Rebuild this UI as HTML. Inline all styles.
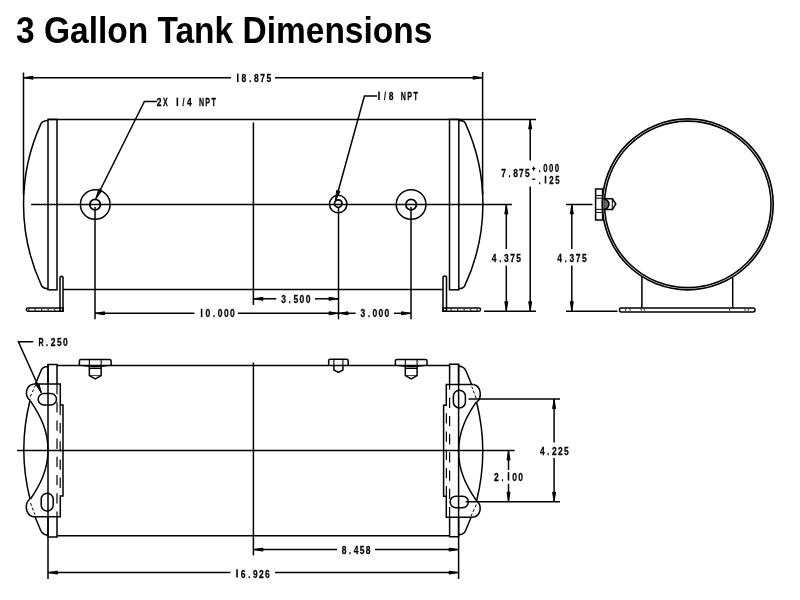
<!DOCTYPE html>
<html><head><meta charset="utf-8"><style>
html,body{margin:0;padding:0;background:#fff;width:800px;height:600px;overflow:hidden}
.t{position:absolute;left:16px;top:0;font:bold 33.5px "Liberation Sans",sans-serif;color:#000;white-space:nowrap;transform:scaleY(1.106);transform-origin:0 0;will-change:transform}
svg{position:absolute;left:0;top:0;will-change:transform}
svg text{font-family:"Liberation Sans",sans-serif;fill:#000}
</style></head><body>
<div class="t" style="top:9.6px">3 Gallon Tank Dimensions</div>
<svg width="800" height="600" viewBox="0 0 800 600" stroke="#000" stroke-linecap="butt">
<line x1="23.5" y1="72.5" x2="23.5" y2="195" stroke-width="1.5" />
<line x1="482.6" y1="72" x2="482.6" y2="195" stroke-width="1.5" />
<line x1="23.5" y1="77.7" x2="231" y2="77.7" stroke-width="1.5" />
<line x1="275" y1="77.7" x2="482.6" y2="77.7" stroke-width="1.5" />
<polygon points="24.0,77.7 33.0,76.2 33.0,79.2" fill="#000" stroke="#000" stroke-width="1" stroke-linejoin="round"/>
<polygon points="482.1,77.7 473.1,76.2 473.1,79.2" fill="#000" stroke="#000" stroke-width="1" stroke-linejoin="round"/>
<line x1="237.75" y1="73.65" x2="237.75" y2="82.1" stroke-width="1.55"/>
<text transform="translate(237.75,82.1) scale(0.6,1)" text-anchor="middle" font-size="11.8" font-weight="bold" style="fill:none;stroke:none">1</text>
<text transform="translate(243.98,82.1) scale(0.72,1)" text-anchor="middle" font-size="11.8" font-weight="bold" stroke="#000" stroke-width="0.3">8</text>
<text transform="translate(250.21,82.1) scale(0.6,1)" text-anchor="middle" font-size="11.8" font-weight="bold" stroke="#000" stroke-width="0.3">.</text>
<text transform="translate(256.44,82.1) scale(0.72,1)" text-anchor="middle" font-size="11.8" font-weight="bold" stroke="#000" stroke-width="0.3">8</text>
<text transform="translate(262.67,82.1) scale(0.72,1)" text-anchor="middle" font-size="11.8" font-weight="bold" stroke="#000" stroke-width="0.3">7</text>
<text transform="translate(268.90,82.1) scale(0.72,1)" text-anchor="middle" font-size="11.8" font-weight="bold" stroke="#000" stroke-width="0.3">5</text>
<line x1="48" y1="119.4" x2="536" y2="119.4" stroke-width="1.5" />
<line x1="63" y1="289.6" x2="443" y2="289.6" stroke-width="1.5" />
<rect x="48" y="119.4" width="9" height="170.4" rx="0" stroke-width="1.5" fill="none"/>
<rect x="449.5" y="119.4" width="9.3" height="170.4" rx="0" stroke-width="1.5" fill="none"/>
<path d="M48,120.6 L45.5,120.7 Q42.5,121 41,123.6 A194,194 0 0 0 41.7,286 Q43.5,288.6 48,288.8" stroke-width="1.5" fill="none" />
<path d="M458.5,120.6 L461.5,120.7 Q464.5,121 465.5,123.6 A194,194 0 0 1 464.5,286.4 Q462.5,288.6 458.5,288.8" stroke-width="1.5" fill="none" />
<line x1="31" y1="204.5" x2="512" y2="204.5" stroke-width="1.5" />
<line x1="253.4" y1="122.5" x2="253.4" y2="305" stroke-width="1.5" />
<circle cx="95.25" cy="204.5" r="14.85" stroke-width="1.5" fill="none"/>
<circle cx="95.1" cy="204.6" r="5.3" stroke-width="1.75" fill="none"/>
<circle cx="338.2" cy="204.1" r="8.75" stroke-width="1.5" fill="none"/>
<circle cx="338.25" cy="203.6" r="3.75" stroke-width="1.75" fill="none"/>
<circle cx="411.1" cy="204.5" r="14.85" stroke-width="1.5" fill="none"/>
<circle cx="411.1" cy="204.6" r="5.3" stroke-width="1.75" fill="none"/>
<line x1="95" y1="207" x2="95" y2="319.3" stroke-width="1.5" />
<line x1="338.5" y1="207.5" x2="338.5" y2="319.3" stroke-width="1.5" />
<line x1="411" y1="207" x2="411" y2="319.3" stroke-width="1.5" />
<path d="M96,198.5 L144.4,101.5 L157,101.5" stroke-width="1.5" fill="none" />
<polygon points="95.90,198.60 98.85,188.89 101.89,190.41" fill="#000" stroke="#000" stroke-width="1" stroke-linejoin="round"/>
<text transform="translate(159.20,106) scale(0.72,1)" text-anchor="middle" font-size="11.8" font-weight="bold" stroke="#000" stroke-width="0.3">2</text>
<text transform="translate(165.25,106) scale(0.6,1)" text-anchor="middle" font-size="11.8" font-weight="bold" stroke="#000" stroke-width="0.3">X</text>
<line x1="177.35" y1="97.55" x2="177.35" y2="106" stroke-width="1.55"/>
<text transform="translate(177.35,106) scale(0.6,1)" text-anchor="middle" font-size="11.8" font-weight="bold" style="fill:none;stroke:none">1</text>
<text transform="translate(183.40,106) scale(0.6,1)" text-anchor="middle" font-size="11.8" font-weight="bold" stroke="#000" stroke-width="0.3">/</text>
<text transform="translate(189.45,106) scale(0.72,1)" text-anchor="middle" font-size="11.8" font-weight="bold" stroke="#000" stroke-width="0.3">4</text>
<text transform="translate(201.55,106) scale(0.6,1)" text-anchor="middle" font-size="11.8" font-weight="bold" stroke="#000" stroke-width="0.3">N</text>
<text transform="translate(207.60,106) scale(0.6,1)" text-anchor="middle" font-size="11.8" font-weight="bold" stroke="#000" stroke-width="0.3">P</text>
<text transform="translate(213.65,106) scale(0.6,1)" text-anchor="middle" font-size="11.8" font-weight="bold" stroke="#000" stroke-width="0.3">T</text>
<path d="M335.6,200.5 L364.4,96 L377,96" stroke-width="1.5" fill="none" />
<polygon points="335.60,200.60 336.62,190.51 339.89,191.41" fill="#000" stroke="#000" stroke-width="1" stroke-linejoin="round"/>
<line x1="379.00" y1="91.55" x2="379.00" y2="100" stroke-width="1.55"/>
<text transform="translate(379.00,100) scale(0.6,1)" text-anchor="middle" font-size="11.8" font-weight="bold" style="fill:none;stroke:none">1</text>
<text transform="translate(385.10,100) scale(0.6,1)" text-anchor="middle" font-size="11.8" font-weight="bold" stroke="#000" stroke-width="0.3">/</text>
<text transform="translate(391.20,100) scale(0.72,1)" text-anchor="middle" font-size="11.8" font-weight="bold" stroke="#000" stroke-width="0.3">8</text>
<text transform="translate(403.40,100) scale(0.6,1)" text-anchor="middle" font-size="11.8" font-weight="bold" stroke="#000" stroke-width="0.3">N</text>
<text transform="translate(409.50,100) scale(0.6,1)" text-anchor="middle" font-size="11.8" font-weight="bold" stroke="#000" stroke-width="0.3">P</text>
<text transform="translate(415.60,100) scale(0.6,1)" text-anchor="middle" font-size="11.8" font-weight="bold" stroke="#000" stroke-width="0.3">T</text>
<path d="M60,311.3 L60,277.5 Q60,276.3 61.5,276.3 Q63,276.3 63,277.5 L63,311.3 Z" stroke-width="1.5" fill="none" />
<path d="M28,308 L63,308 L63,311.3 L28,311.3 Q26.3,311.3 26.3,309.6 Q26.3,308 28,308 Z" stroke-width="1.5" fill="none" />
<line x1="28" y1="309.8" x2="60" y2="309.8" stroke-width="1.2" stroke-dasharray="1.3,5.2"/>
<path d="M443,311.3 L443,277.3 Q443,276 444.5,276 Q446.5,276 446.5,277.3 L446.5,311.3 Z" stroke-width="1.5" fill="none" />
<path d="M443,308 L479,308 Q480.6,308 480.6,309.6 Q480.6,311.3 479,311.3 L443,311.3 Z" stroke-width="1.5" fill="none" />
<line x1="447" y1="309.8" x2="479" y2="309.8" stroke-width="1.2" stroke-dasharray="1.3,5.2" stroke-dashoffset="3"/>
<line x1="253.4" y1="298.8" x2="276.3" y2="298.8" stroke-width="1.5" />
<line x1="315" y1="298.8" x2="338.5" y2="298.8" stroke-width="1.5" />
<polygon points="253.9,298.8 262.9,297.3 262.9,300.3" fill="#000" stroke="#000" stroke-width="1" stroke-linejoin="round"/>
<polygon points="338.0,298.8 329.0,297.3 329.0,300.3" fill="#000" stroke="#000" stroke-width="1" stroke-linejoin="round"/>
<text transform="translate(283.60,303.1) scale(0.72,1)" text-anchor="middle" font-size="11.8" font-weight="bold" stroke="#000" stroke-width="0.3">3</text>
<text transform="translate(289.70,303.1) scale(0.6,1)" text-anchor="middle" font-size="11.8" font-weight="bold" stroke="#000" stroke-width="0.3">.</text>
<text transform="translate(295.80,303.1) scale(0.72,1)" text-anchor="middle" font-size="11.8" font-weight="bold" stroke="#000" stroke-width="0.3">5</text>
<text transform="translate(301.90,303.1) scale(0.72,1)" text-anchor="middle" font-size="11.8" font-weight="bold" stroke="#000" stroke-width="0.3">0</text>
<text transform="translate(308.00,303.1) scale(0.72,1)" text-anchor="middle" font-size="11.8" font-weight="bold" stroke="#000" stroke-width="0.3">0</text>
<line x1="95" y1="313.3" x2="194.4" y2="313.3" stroke-width="1.5" />
<line x1="238" y1="313.3" x2="338.5" y2="313.3" stroke-width="1.5" />
<polygon points="95.5,313.3 104.5,311.8 104.5,314.8" fill="#000" stroke="#000" stroke-width="1" stroke-linejoin="round"/>
<polygon points="338.0,313.3 329.0,311.8 329.0,314.8" fill="#000" stroke="#000" stroke-width="1" stroke-linejoin="round"/>
<line x1="201.60" y1="308.75" x2="201.60" y2="317.2" stroke-width="1.55"/>
<text transform="translate(201.60,317.2) scale(0.6,1)" text-anchor="middle" font-size="11.8" font-weight="bold" style="fill:none;stroke:none">1</text>
<text transform="translate(207.76,317.2) scale(0.72,1)" text-anchor="middle" font-size="11.8" font-weight="bold" stroke="#000" stroke-width="0.3">0</text>
<text transform="translate(213.92,317.2) scale(0.6,1)" text-anchor="middle" font-size="11.8" font-weight="bold" stroke="#000" stroke-width="0.3">.</text>
<text transform="translate(220.08,317.2) scale(0.72,1)" text-anchor="middle" font-size="11.8" font-weight="bold" stroke="#000" stroke-width="0.3">0</text>
<text transform="translate(226.24,317.2) scale(0.72,1)" text-anchor="middle" font-size="11.8" font-weight="bold" stroke="#000" stroke-width="0.3">0</text>
<text transform="translate(232.40,317.2) scale(0.72,1)" text-anchor="middle" font-size="11.8" font-weight="bold" stroke="#000" stroke-width="0.3">0</text>
<line x1="338.5" y1="313.3" x2="355.6" y2="313.3" stroke-width="1.5" />
<line x1="394" y1="313.3" x2="411" y2="313.3" stroke-width="1.5" />
<polygon points="339.0,313.3 348.0,311.8 348.0,314.8" fill="#000" stroke="#000" stroke-width="1" stroke-linejoin="round"/>
<polygon points="410.5,313.3 401.5,311.8 401.5,314.8" fill="#000" stroke="#000" stroke-width="1" stroke-linejoin="round"/>
<text transform="translate(362.90,316.9) scale(0.72,1)" text-anchor="middle" font-size="11.8" font-weight="bold" stroke="#000" stroke-width="0.3">3</text>
<text transform="translate(368.87,316.9) scale(0.6,1)" text-anchor="middle" font-size="11.8" font-weight="bold" stroke="#000" stroke-width="0.3">.</text>
<text transform="translate(374.84,316.9) scale(0.72,1)" text-anchor="middle" font-size="11.8" font-weight="bold" stroke="#000" stroke-width="0.3">0</text>
<text transform="translate(380.81,316.9) scale(0.72,1)" text-anchor="middle" font-size="11.8" font-weight="bold" stroke="#000" stroke-width="0.3">0</text>
<text transform="translate(386.78,316.9) scale(0.72,1)" text-anchor="middle" font-size="11.8" font-weight="bold" stroke="#000" stroke-width="0.3">0</text>
<line x1="484" y1="311.2" x2="536" y2="311.2" stroke-width="1.5" />
<line x1="506.3" y1="204.5" x2="506.3" y2="249" stroke-width="1.5" />
<line x1="506.3" y1="265.6" x2="506.3" y2="311.2" stroke-width="1.5" />
<polygon points="506.3,205.0 504.8,214.0 507.8,214.0" fill="#000" stroke="#000" stroke-width="1" stroke-linejoin="round"/>
<polygon points="506.3,310.7 504.8,301.7 507.8,301.7" fill="#000" stroke="#000" stroke-width="1" stroke-linejoin="round"/>
<text transform="translate(494.20,262.4) scale(0.72,1)" text-anchor="middle" font-size="11.8" font-weight="bold" stroke="#000" stroke-width="0.3">4</text>
<text transform="translate(500.30,262.4) scale(0.6,1)" text-anchor="middle" font-size="11.8" font-weight="bold" stroke="#000" stroke-width="0.3">.</text>
<text transform="translate(506.40,262.4) scale(0.72,1)" text-anchor="middle" font-size="11.8" font-weight="bold" stroke="#000" stroke-width="0.3">3</text>
<text transform="translate(512.50,262.4) scale(0.72,1)" text-anchor="middle" font-size="11.8" font-weight="bold" stroke="#000" stroke-width="0.3">7</text>
<text transform="translate(518.60,262.4) scale(0.72,1)" text-anchor="middle" font-size="11.8" font-weight="bold" stroke="#000" stroke-width="0.3">5</text>
<line x1="530.2" y1="119.4" x2="530.2" y2="160.5" stroke-width="1.5" />
<line x1="530.2" y1="186.5" x2="530.2" y2="311.2" stroke-width="1.5" />
<polygon points="530.2,119.9 528.7,128.9 531.7,128.9" fill="#000" stroke="#000" stroke-width="1" stroke-linejoin="round"/>
<polygon points="530.2,310.7 528.7,301.7 531.7,301.7" fill="#000" stroke="#000" stroke-width="1" stroke-linejoin="round"/>
<text transform="translate(503.70,177.4) scale(0.72,1)" text-anchor="middle" font-size="11.8" font-weight="bold" stroke="#000" stroke-width="0.3">7</text>
<text transform="translate(509.60,177.4) scale(0.6,1)" text-anchor="middle" font-size="11.8" font-weight="bold" stroke="#000" stroke-width="0.3">.</text>
<text transform="translate(515.50,177.4) scale(0.72,1)" text-anchor="middle" font-size="11.8" font-weight="bold" stroke="#000" stroke-width="0.3">8</text>
<text transform="translate(521.40,177.4) scale(0.72,1)" text-anchor="middle" font-size="11.8" font-weight="bold" stroke="#000" stroke-width="0.3">7</text>
<text transform="translate(527.30,177.4) scale(0.72,1)" text-anchor="middle" font-size="11.8" font-weight="bold" stroke="#000" stroke-width="0.3">5</text>
<text transform="translate(539.55,171.75) scale(0.6,1)" text-anchor="middle" font-size="10.8" font-weight="bold" stroke="#000" stroke-width="0.3">.</text>
<text transform="translate(545.35,171.75) scale(0.72,1)" text-anchor="middle" font-size="10.8" font-weight="bold" stroke="#000" stroke-width="0.3">0</text>
<text transform="translate(551.15,171.75) scale(0.72,1)" text-anchor="middle" font-size="10.8" font-weight="bold" stroke="#000" stroke-width="0.3">0</text>
<text transform="translate(556.95,171.75) scale(0.72,1)" text-anchor="middle" font-size="10.8" font-weight="bold" stroke="#000" stroke-width="0.3">0</text>
<line x1="532.1" y1="168.6" x2="535.3" y2="168.6" stroke-width="1.25" />
<line x1="533.7" y1="166.4" x2="533.7" y2="170.8" stroke-width="1.25" />
<text transform="translate(539.60,183.5) scale(0.6,1)" text-anchor="middle" font-size="10.8" font-weight="bold" stroke="#000" stroke-width="0.3">.</text>
<line x1="545.50" y1="175.77" x2="545.50" y2="183.5" stroke-width="1.55"/>
<text transform="translate(545.50,183.5) scale(0.6,1)" text-anchor="middle" font-size="10.8" font-weight="bold" style="fill:none;stroke:none">1</text>
<text transform="translate(551.40,183.5) scale(0.72,1)" text-anchor="middle" font-size="10.8" font-weight="bold" stroke="#000" stroke-width="0.3">2</text>
<text transform="translate(557.30,183.5) scale(0.72,1)" text-anchor="middle" font-size="10.8" font-weight="bold" stroke="#000" stroke-width="0.3">5</text>
<line x1="532.2" y1="179.2" x2="535.2" y2="179.2" stroke-width="1.3" />
<circle cx="687.75" cy="204.35" r="85.45" stroke-width="1.65" fill="none"/>
<circle cx="687.75" cy="204.35" r="83.25" stroke-width="1.6" fill="none"/>
<line x1="566" y1="204.5" x2="592.5" y2="204.5" stroke-width="1.5" />
<line x1="566" y1="311.2" x2="617.5" y2="311.2" stroke-width="1.5" />
<line x1="571.8" y1="204.5" x2="571.8" y2="249" stroke-width="1.5" />
<line x1="571.8" y1="265.6" x2="571.8" y2="311.2" stroke-width="1.5" />
<polygon points="571.8,205.0 570.3,214.0 573.3,214.0" fill="#000" stroke="#000" stroke-width="1" stroke-linejoin="round"/>
<polygon points="571.8,310.7 570.3,301.7 573.3,301.7" fill="#000" stroke="#000" stroke-width="1" stroke-linejoin="round"/>
<text transform="translate(559.60,262.4) scale(0.72,1)" text-anchor="middle" font-size="11.8" font-weight="bold" stroke="#000" stroke-width="0.3">4</text>
<text transform="translate(565.77,262.4) scale(0.6,1)" text-anchor="middle" font-size="11.8" font-weight="bold" stroke="#000" stroke-width="0.3">.</text>
<text transform="translate(571.94,262.4) scale(0.72,1)" text-anchor="middle" font-size="11.8" font-weight="bold" stroke="#000" stroke-width="0.3">3</text>
<text transform="translate(578.11,262.4) scale(0.72,1)" text-anchor="middle" font-size="11.8" font-weight="bold" stroke="#000" stroke-width="0.3">7</text>
<text transform="translate(584.28,262.4) scale(0.72,1)" text-anchor="middle" font-size="11.8" font-weight="bold" stroke="#000" stroke-width="0.3">5</text>
<rect x="595.6" y="189" width="7" height="31" rx="0" stroke-width="1.5" fill="none"/>
<line x1="595.6" y1="195.6" x2="602.6" y2="195.6" stroke-width="1" />
<line x1="595.6" y1="198.2" x2="602.6" y2="198.2" stroke-width="1" />
<line x1="595.6" y1="209.4" x2="602.6" y2="209.4" stroke-width="1" />
<line x1="595.6" y1="212.4" x2="602.6" y2="212.4" stroke-width="1" />
<path d="M602.6,198.8 L612.5,198.8 L615.8,204 L612.5,209.4 L602.6,209.4" stroke-width="1.5" fill="none" />
<path d="M604.2,199.4 A4.6,4.8 0 0 1 604.2,209.2" stroke-width="1.6" fill="#666" />
<line x1="612.3" y1="198.8" x2="612.3" y2="209.4" stroke-width="1.0" />
<path d="M621,308 L753,308 Q755,308 755,310 Q755,312 753,312 L621,312 Q619.5,312 619.5,310 Q619.5,308 621,308 Z" stroke-width="1.5" fill="none" />
<line x1="641.9" y1="277" x2="641.9" y2="308" stroke-width="1.5" />
<line x1="732.7" y1="277.5" x2="732.7" y2="308" stroke-width="1.5" />
<line x1="625.0" y1="309.8" x2="626.2" y2="309.8" stroke-width="1.2" />
<line x1="629.4" y1="309.8" x2="630.6" y2="309.8" stroke-width="1.2" />
<line x1="640.65" y1="309.8" x2="641.85" y2="309.8" stroke-width="1.2" />
<line x1="643.8" y1="309.8" x2="645.0" y2="309.8" stroke-width="1.2" />
<line x1="729.0" y1="309.8" x2="730.2" y2="309.8" stroke-width="1.2" />
<line x1="744.4" y1="309.8" x2="745.6" y2="309.8" stroke-width="1.2" />
<line x1="747.6999999999999" y1="309.8" x2="748.9" y2="309.8" stroke-width="1.2" />
<line x1="57" y1="365.45" x2="449.5" y2="365.45" stroke-width="1.5" />
<line x1="57" y1="535.8" x2="449.5" y2="535.8" stroke-width="1.5" />
<line x1="17" y1="450.5" x2="514.5" y2="450.5" stroke-width="1.5" />
<line x1="253.4" y1="362.5" x2="253.4" y2="555.4" stroke-width="1.5" />
<g><path d="M48,383.9 L48,364.5 L57,364.5 L57,383.9" stroke-width="1.5" fill="none" />
<path d="M48,516.7 L48,537 L57,537 L57,516.7" stroke-width="1.5" fill="none" />
<line x1="48" y1="364.5" x2="48" y2="537" stroke-width="1.5" />
<line x1="57" y1="384" x2="57" y2="516.7" stroke-width="1.2" stroke-dasharray="10.3,7.9"/>
<line x1="60.2" y1="404.8" x2="60.2" y2="496" stroke-width="1.2" stroke-dasharray="10.3,7.9"/>
<path d="M33.8,383.9 L60.3,383.9 L60.3,405 L63,405 L63,496 L60.3,496 L60.3,516.7 L33,516.7" stroke-width="1.5" fill="none" />
<path d="M33.8,383.9 C25,385.5 24.5,396 30.2,400.6" stroke-width="1.5" fill="none" />
<path d="M30,499 C24.5,503 25,515 33,516.7" stroke-width="1.5" fill="none" />
<path d="M30,400.5 Q17.6,450 30,499" stroke-width="1.5" fill="none" />
<path d="M30.4,400.8 C40,415 48,430 48,450 C48,470 40,485 30.5,499" stroke-width="1.5" fill="none" />
<path d="M48,366.8 L45.5,366.8 Q43,367 41.5,369.5 L35.5,383.9" stroke-width="1.5" fill="none" />
<path d="M35,516.7 L40.5,530 Q42.5,534.8 48,535.2" stroke-width="1.5" fill="none" />
<rect x="38.2" y="393.5" width="18.3" height="11.5" rx="5.75" fill="none" stroke-width="1.5"/>
<rect x="41.2" y="493.3" width="12" height="17.7" rx="6" fill="none" stroke-width="1.5"/>
<line x1="35.7" y1="384.8" x2="29.8" y2="397.7" stroke-width="1.0" stroke-dasharray="3,2"/>
<line x1="30.5" y1="503" x2="34.8" y2="514.5" stroke-width="1.0" stroke-dasharray="3,2"/></g>
<g transform="rotate(180 253.3 450.6)"><path d="M48,383.9 L48,364.5 L57,364.5 L57,383.9" stroke-width="1.5" fill="none" />
<path d="M48,516.7 L48,537 L57,537 L57,516.7" stroke-width="1.5" fill="none" />
<line x1="48" y1="364.5" x2="48" y2="537" stroke-width="1.5" />
<line x1="57" y1="384" x2="57" y2="516.7" stroke-width="1.2" stroke-dasharray="10.3,7.9"/>
<line x1="60.2" y1="404.8" x2="60.2" y2="496" stroke-width="1.2" stroke-dasharray="10.3,7.9"/>
<path d="M33.8,383.9 L60.3,383.9 L60.3,405 L63,405 L63,496 L60.3,496 L60.3,516.7 L33,516.7" stroke-width="1.5" fill="none" />
<path d="M33.8,383.9 C25,385.5 24.5,396 30.2,400.6" stroke-width="1.5" fill="none" />
<path d="M30,499 C24.5,503 25,515 33,516.7" stroke-width="1.5" fill="none" />
<path d="M30,400.5 Q17.6,450 30,499" stroke-width="1.5" fill="none" />
<path d="M30.4,400.8 C40,415 48,430 48,450 C48,470 40,485 30.5,499" stroke-width="1.5" fill="none" />
<path d="M48,366.8 L45.5,366.8 Q43,367 41.5,369.5 L35.5,383.9" stroke-width="1.5" fill="none" />
<path d="M35,516.7 L40.5,530 Q42.5,534.8 48,535.2" stroke-width="1.5" fill="none" />
<rect x="38.2" y="393.5" width="18.3" height="11.5" rx="5.75" fill="none" stroke-width="1.5"/>
<rect x="41.2" y="493.3" width="12" height="17.7" rx="6" fill="none" stroke-width="1.5"/>
<line x1="35.7" y1="384.8" x2="29.8" y2="397.7" stroke-width="1.0" stroke-dasharray="3,2"/>
<line x1="30.5" y1="503" x2="34.8" y2="514.5" stroke-width="1.0" stroke-dasharray="3,2"/></g>
<path d="M79.4,365.5 L79.4,360.9 Q79.4,359.4 80.9,359.4 L109.6,359.4 Q111.1,359.4 111.1,360.9 L111.1,365.5" stroke-width="1.5" fill="none" />
<path d="M79.4,365.3 Q95.25,368 111.1,365.3" stroke-width="1.1" fill="none" />
<line x1="89.35" y1="359.4" x2="89.35" y2="367" stroke-width="1.1" />
<line x1="101.15" y1="359.4" x2="101.15" y2="367" stroke-width="1.1" />
<path d="M89.35,367 L89.35,375.6 L95.25,378.9 L101.15,375.6 L101.15,367" stroke-width="1.5" fill="none" />
<line x1="89.35" y1="368.3" x2="101.15" y2="368.3" stroke-width="1.4" />
<line x1="89.35" y1="375.6" x2="101.15" y2="375.6" stroke-width="0.8" />
<path d="M328.65,365.5 L328.65,360.7 Q328.65,359.25 330.15,359.25 L346.65,359.25 Q348.15,359.25 348.15,360.7 L348.15,365.5" stroke-width="1.5" fill="none" />
<line x1="333.9" y1="359.25" x2="333.9" y2="365.5" stroke-width="1.1" />
<line x1="342.9" y1="359.25" x2="342.9" y2="365.5" stroke-width="1.1" />
<path d="M333.9,365.5 L333.9,370 L338.4,372.5 L342.9,370 L342.9,365.5" stroke-width="1.5" fill="none" />
<path d="M395.34999999999997,365.5 L395.34999999999997,360.9 Q395.34999999999997,359.4 396.84999999999997,359.4 L425.55,359.4 Q427.05,359.4 427.05,360.9 L427.05,365.5" stroke-width="1.5" fill="none" />
<path d="M395.34999999999997,365.3 Q411.2,368 427.05,365.3" stroke-width="1.1" fill="none" />
<line x1="405.3" y1="359.4" x2="405.3" y2="367" stroke-width="1.1" />
<line x1="417.09999999999997" y1="359.4" x2="417.09999999999997" y2="367" stroke-width="1.1" />
<path d="M405.3,367 L405.3,375.6 L411.2,378.9 L417.09999999999997,375.6 L417.09999999999997,367" stroke-width="1.5" fill="none" />
<line x1="405.3" y1="368.3" x2="417.09999999999997" y2="368.3" stroke-width="1.4" />
<line x1="405.3" y1="375.6" x2="417.09999999999997" y2="375.6" stroke-width="0.8" />
<line x1="48" y1="537" x2="48" y2="579" stroke-width="1.5" />
<line x1="458.6" y1="537" x2="458.6" y2="579" stroke-width="1.5" />
<line x1="48" y1="572.6" x2="230.5" y2="572.6" stroke-width="1.5" />
<line x1="275" y1="572.6" x2="458.6" y2="572.6" stroke-width="1.5" />
<polygon points="48.5,572.6 57.5,571.1 57.5,574.1" fill="#000" stroke="#000" stroke-width="1" stroke-linejoin="round"/>
<polygon points="458.1,572.6 449.1,571.1 449.1,574.1" fill="#000" stroke="#000" stroke-width="1" stroke-linejoin="round"/>
<line x1="237.00" y1="569.15" x2="237.00" y2="577.6" stroke-width="1.55"/>
<text transform="translate(237.00,577.6) scale(0.6,1)" text-anchor="middle" font-size="11.8" font-weight="bold" style="fill:none;stroke:none">1</text>
<text transform="translate(243.08,577.6) scale(0.72,1)" text-anchor="middle" font-size="11.8" font-weight="bold" stroke="#000" stroke-width="0.3">6</text>
<text transform="translate(249.16,577.6) scale(0.6,1)" text-anchor="middle" font-size="11.8" font-weight="bold" stroke="#000" stroke-width="0.3">.</text>
<text transform="translate(255.24,577.6) scale(0.72,1)" text-anchor="middle" font-size="11.8" font-weight="bold" stroke="#000" stroke-width="0.3">9</text>
<text transform="translate(261.32,577.6) scale(0.72,1)" text-anchor="middle" font-size="11.8" font-weight="bold" stroke="#000" stroke-width="0.3">2</text>
<text transform="translate(267.40,577.6) scale(0.72,1)" text-anchor="middle" font-size="11.8" font-weight="bold" stroke="#000" stroke-width="0.3">6</text>
<line x1="253.4" y1="549.6" x2="337" y2="549.6" stroke-width="1.5" />
<line x1="375" y1="549.6" x2="458.6" y2="549.6" stroke-width="1.5" />
<polygon points="253.9,549.6 262.9,548.1 262.9,551.1" fill="#000" stroke="#000" stroke-width="1" stroke-linejoin="round"/>
<polygon points="458.1,549.6 449.1,548.1 449.1,551.1" fill="#000" stroke="#000" stroke-width="1" stroke-linejoin="round"/>
<text transform="translate(344.00,554) scale(0.72,1)" text-anchor="middle" font-size="11.8" font-weight="bold" stroke="#000" stroke-width="0.3">8</text>
<text transform="translate(350.00,554) scale(0.6,1)" text-anchor="middle" font-size="11.8" font-weight="bold" stroke="#000" stroke-width="0.3">.</text>
<text transform="translate(356.00,554) scale(0.72,1)" text-anchor="middle" font-size="11.8" font-weight="bold" stroke="#000" stroke-width="0.3">4</text>
<text transform="translate(362.00,554) scale(0.72,1)" text-anchor="middle" font-size="11.8" font-weight="bold" stroke="#000" stroke-width="0.3">5</text>
<text transform="translate(368.00,554) scale(0.72,1)" text-anchor="middle" font-size="11.8" font-weight="bold" stroke="#000" stroke-width="0.3">8</text>
<line x1="468.5" y1="399.1" x2="560" y2="399.1" stroke-width="1.5" />
<line x1="465.6" y1="501.7" x2="560" y2="501.7" stroke-width="1.5" />
<line x1="554.1" y1="399.1" x2="554.1" y2="442.5" stroke-width="1.5" />
<line x1="554.1" y1="458" x2="554.1" y2="501.7" stroke-width="1.5" />
<polygon points="554.1,399.6 552.6,408.6 555.6,408.6" fill="#000" stroke="#000" stroke-width="1" stroke-linejoin="round"/>
<polygon points="554.1,501.2 552.6,492.2 555.6,492.2" fill="#000" stroke="#000" stroke-width="1" stroke-linejoin="round"/>
<text transform="translate(542.25,454.75) scale(0.72,1)" text-anchor="middle" font-size="11.8" font-weight="bold" stroke="#000" stroke-width="0.3">4</text>
<text transform="translate(548.25,454.75) scale(0.6,1)" text-anchor="middle" font-size="11.8" font-weight="bold" stroke="#000" stroke-width="0.3">.</text>
<text transform="translate(554.25,454.75) scale(0.72,1)" text-anchor="middle" font-size="11.8" font-weight="bold" stroke="#000" stroke-width="0.3">2</text>
<text transform="translate(560.25,454.75) scale(0.72,1)" text-anchor="middle" font-size="11.8" font-weight="bold" stroke="#000" stroke-width="0.3">2</text>
<text transform="translate(566.25,454.75) scale(0.72,1)" text-anchor="middle" font-size="11.8" font-weight="bold" stroke="#000" stroke-width="0.3">5</text>
<line x1="508.5" y1="450.5" x2="508.5" y2="470" stroke-width="1.5" />
<line x1="508.5" y1="483.8" x2="508.5" y2="501.7" stroke-width="1.5" />
<polygon points="508.5,451.0 507.0,460.0 510.0,460.0" fill="#000" stroke="#000" stroke-width="1" stroke-linejoin="round"/>
<polygon points="508.5,501.2 507.0,492.2 510.0,492.2" fill="#000" stroke="#000" stroke-width="1" stroke-linejoin="round"/>
<text transform="translate(496.40,480.6) scale(0.72,1)" text-anchor="middle" font-size="11.8" font-weight="bold" stroke="#000" stroke-width="0.3">2</text>
<text transform="translate(502.45,480.6) scale(0.6,1)" text-anchor="middle" font-size="11.8" font-weight="bold" stroke="#000" stroke-width="0.3">.</text>
<line x1="508.50" y1="472.15" x2="508.50" y2="480.6" stroke-width="1.55"/>
<text transform="translate(508.50,480.6) scale(0.6,1)" text-anchor="middle" font-size="11.8" font-weight="bold" style="fill:none;stroke:none">1</text>
<text transform="translate(514.55,480.6) scale(0.72,1)" text-anchor="middle" font-size="11.8" font-weight="bold" stroke="#000" stroke-width="0.3">0</text>
<text transform="translate(520.60,480.6) scale(0.72,1)" text-anchor="middle" font-size="11.8" font-weight="bold" stroke="#000" stroke-width="0.3">0</text>
<path d="M33.3,341.7 L18.4,341.7 L41.3,392.8" stroke-width="1.5" fill="none" />
<polygon points="41.30,392.80 36.25,385.20 38.99,383.97" fill="#000" stroke="#000" stroke-width="1" stroke-linejoin="round"/>
<text transform="translate(41.00,345.8) scale(0.6,1)" text-anchor="middle" font-size="11.8" font-weight="bold" stroke="#000" stroke-width="0.3">R</text>
<text transform="translate(47.10,345.8) scale(0.6,1)" text-anchor="middle" font-size="11.8" font-weight="bold" stroke="#000" stroke-width="0.3">.</text>
<text transform="translate(53.20,345.8) scale(0.72,1)" text-anchor="middle" font-size="11.8" font-weight="bold" stroke="#000" stroke-width="0.3">2</text>
<text transform="translate(59.30,345.8) scale(0.72,1)" text-anchor="middle" font-size="11.8" font-weight="bold" stroke="#000" stroke-width="0.3">5</text>
<text transform="translate(65.40,345.8) scale(0.72,1)" text-anchor="middle" font-size="11.8" font-weight="bold" stroke="#000" stroke-width="0.3">0</text>
</svg>
</body></html>
